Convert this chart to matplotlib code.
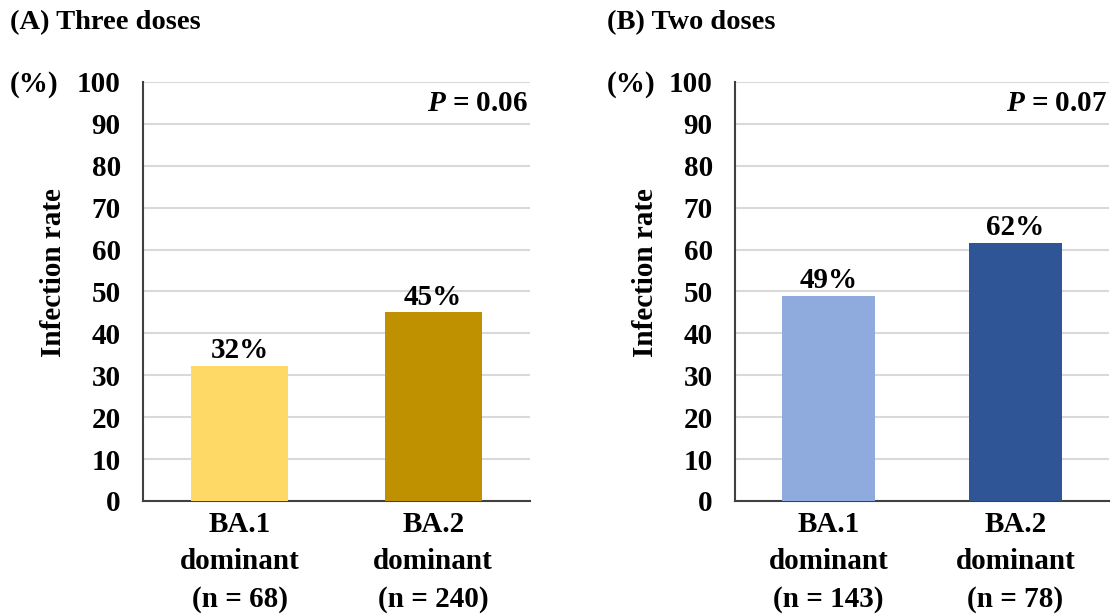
import matplotlib.pyplot as plt

plt.rcParams['font.family'] = ['Liberation Serif', 'DejaVu Serif']
plt.rcParams['font.weight'] = 'bold'
plt.rcParams['mathtext.fontset'] = 'custom'
plt.rcParams['mathtext.bfit'] = 'Liberation Serif:bold:italic'

categories_a = ['BA.1\ndominant\n(n = 68)', 'BA.2\ndominant\n(n = 240)']
rates_a = [32.3, 45.0]
labels_a = ['32%', '45%']
colors_a = ['#FFD966', '#BF9000']

categories_b = ['BA.1\ndominant\n(n = 143)', 'BA.2\ndominant\n(n = 78)']
rates_b = [48.9, 61.6]
labels_b = ['49%', '62%']
colors_b = ['#8FAADC', '#2F5597']

FS = 21

fig = plt.figure(figsize=(11.11, 6.15), dpi=100)
ax1 = fig.add_axes([0.1287, 0.1854, 0.3483, 0.6813])
ax2 = fig.add_axes([0.6616, 0.1854, 0.3366, 0.6813])


def draw(ax, cats, vals, labs, cols, ptxt, title, xfig):
    x = range(len(cats))
    ax.bar(x, vals, width=0.5, color=cols, zorder=3)
    for xi, v, l in zip(x, vals, labs):
        ax.text(xi, v + 0.4, l, ha='center', va='bottom', fontsize=FS, fontweight='bold')
    ax.set_xlim(-0.5, 1.5)
    ax.set_ylim(0, 100)
    ax.set_yticks(range(0, 101, 10))
    ax.set_xticks(list(x))
    ax.set_xticklabels(cats, fontsize=FS, fontweight='bold', linespacing=1.5)
    ax.tick_params(axis='y', length=0, pad=16, labelsize=FS)
    ax.tick_params(axis='x', length=0, pad=7)
    ax.grid(axis='y', color='#d9d9d9', linewidth=1.5, zorder=0)
    for s in ['top', 'right']:
        ax.spines[s].set_visible(False)
    for s in ['left', 'bottom']:
        ax.spines[s].set_color('#404040')
        ax.spines[s].set_linewidth(1.5)
    ax.set_ylabel('Infection rate', fontsize=FS, fontweight='bold', labelpad=7, y=0.545)
    ax.text(0.995, 0.948, r'$\bfit{P}$ = ' + ptxt, transform=ax.transAxes,
            ha='right', va='center', fontsize=FS, fontweight='bold')
    fig.text(xfig, 0.963, title, ha='left', va='center', fontsize=FS - 0.5, fontweight='bold')
    fig.text(xfig, 0.862, '(%)', ha='left', va='center', fontsize=FS, fontweight='bold')


draw(ax1, categories_a, rates_a, labels_a, colors_a, '0.06', '(A) Three doses', 0.009)
draw(ax2, categories_b, rates_b, labels_b, colors_b, '0.07', '(B) Two doses', 0.546)

fig.savefig('out.png', dpi=100)
